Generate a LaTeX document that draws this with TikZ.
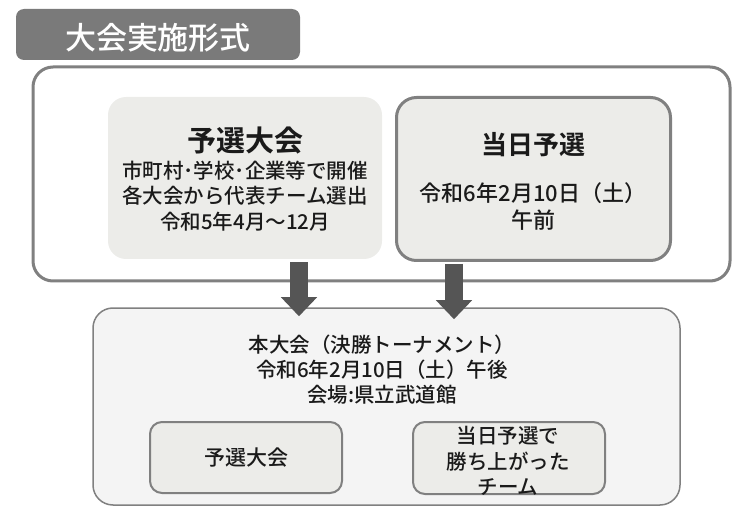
\documentclass[tikz,border=0pt]{standalone}
\usepackage{fontspec}
\setmainfont{Noto Sans CJK JP}[UprightFont={* Medium},BoldFont={* Bold}]
\usetikzlibrary{arrows.meta}
\definecolor{titlegray}{HTML}{7A7A7A}
\definecolor{framegray}{HTML}{808080}
\definecolor{boxfill}{HTML}{ECECE9}
\definecolor{mainfill}{HTML}{F4F4F4}
\definecolor{arrowgray}{HTML}{555555}
\definecolor{ink}{HTML}{1A1A1A}

\begin{document}
\begin{tikzpicture}[x=1pt,y=-1pt,
  box/.style={rectangle,rounded corners=18pt,inner sep=0pt},
  txt/.style={text=ink,align=center,inner sep=0pt},
  bigarrow/.style={line width=18pt,arrowgray,-{Triangle[width=35pt,length=19pt]}}]
\useasboundingbox (0,0) rectangle (740,516);

% heading
\node[box,fill=titlegray,rounded corners=8pt,minimum width=284pt,minimum height=51pt] (head) at (158,34.5) {};
\node[txt,text=white,font=\fontsize{31}{31}\selectfont] (headtxt) at (158,38) {大会実施形式};

% upper frame with the two qualifying routes
\node[box,draw=framegray,line width=3pt,rounded corners=20pt,minimum width=697pt,minimum height=214pt] (frame) at (381.5,174) {};
\node[box,fill=boxfill,minimum width=274pt,minimum height=162pt] (pre) at (245,178) {};
\node[box,draw=framegray,line width=3pt,fill=boxfill,rounded corners=20pt,minimum width=274pt,minimum height=163pt] (sel) at (533.5,179) {};

\node[txt,font=\fontsize{29}{29}\selectfont\bfseries] (pretitle) at (245,141) {予選大会};
\node[txt,font=\fontsize{20.5}{25.5}\selectfont] (pretxt) at (245,196) {市町村･学校･企業等で開催\\各大会から代表チーム選出\\令和5年4月～12月};
\node[txt,font=\fontsize{26}{26}\selectfont\bfseries] (seltitle) at (533,145) {当日予選};
\node[txt,font=\fontsize{22}{27}\selectfont] (seltxt) at (533,206.5) {令和6年2月10日（土）\\午前};

% final tournament
\node[box,draw=framegray,line width=1.5pt,fill=mainfill,rounded corners=20pt,minimum width=587pt,minimum height=197pt] (main) at (386.5,406.5) {};
\node[txt,font=\fontsize{20.5}{25}\selectfont] (maintxt) at (382,370) {本大会（決勝トーナメント）\\令和6年2月10日（土）午後\\会場:県立武道館};
\node[box,draw=framegray,line width=2pt,fill=boxfill,rounded corners=12pt,minimum width=192pt,minimum height=71pt] (fromPre) at (246,457.5) {};
\node[txt,font=\fontsize{21}{21}\selectfont] (fromPretxt) at (246,458) {予選大会};
\node[box,draw=framegray,line width=2pt,fill=boxfill,rounded corners=12pt,minimum width=192pt,minimum height=72pt] (fromSel) at (509,458) {};
\node[txt,font=\fontsize{20.5}{25.5}\selectfont] (fromSeltxt) at (508,461) {当日予選で\\勝ち上がった\\チーム};

% arrows
\coordinate (arrL) at (299,0);
\coordinate (arrR) at (454,0);
\draw[bigarrow] ([yshift=-3pt]pre.south -| arrL) -- ([yshift=-9pt]main.north -| arrL);
\draw[bigarrow] ([yshift=-2pt]sel.south -| arrR) -- ([yshift=-12pt]main.north -| arrR);
\end{tikzpicture}
\end{document}
